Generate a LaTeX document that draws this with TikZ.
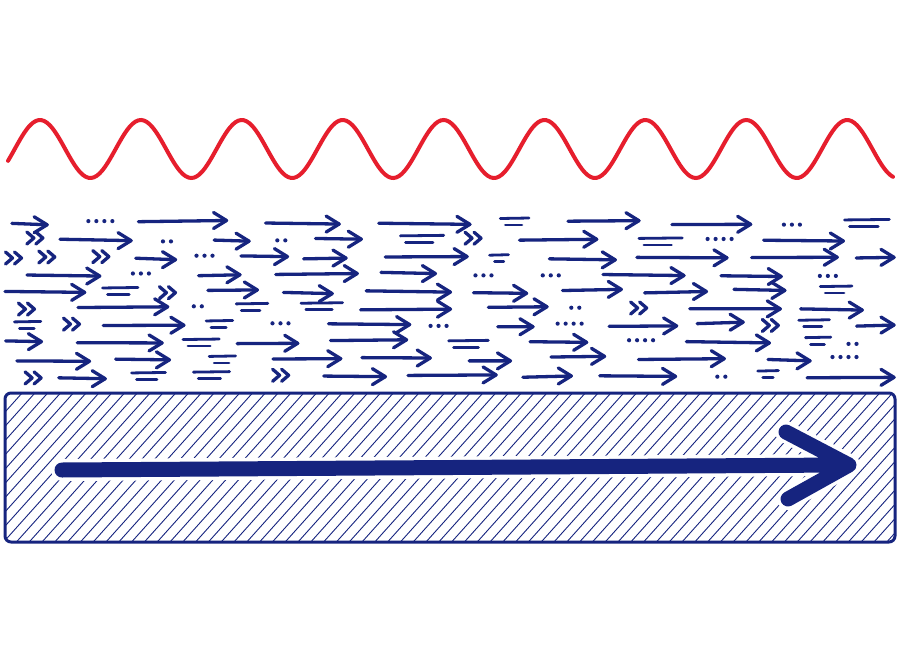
\documentclass[tikz,border=0pt]{standalone}
\definecolor{ink}{HTML}{16247F}
\definecolor{wavered}{HTML}{E61E2D}
\tikzset{
  inkline/.style={draw=ink, line width=3.3pt, line cap=round, line join=round},
  dashline/.style={draw=ink, line width=2.8pt, line cap=round},
  hatchline/.style={draw=ink, line width=0.9pt},
  wavepath/.style={draw=wavered, line width=4pt, line cap=round},
  bigarrow/.style={draw=ink, line width=15pt, line cap=round, line join=round},
  bigarrowhalo/.style={draw=white, line width=22pt, line cap=round, line join=round},
  boxline/.style={draw=ink, line width=3pt, rounded corners=6pt}
}
\newcommand\fieldrow[1]{%
  \pgfmathsetmacro\fx{3+25*rnd}%
  \loop
    \pgfmathsetmacro\ft{rnd}%
    \pgfmathsetmacro\fy{#1+4*rnd-2}%
    \pgfmathsetmacro\fgap{16+28*rnd}%
    \ifdim\ft pt<0.58pt
      \pgfmathsetmacro\fl{min(34+58*rnd, 894-\fx)}%
      \pgfmathsetmacro\fe{\fy+3*rnd-1.5}%
      \draw[inkline] (\fx,\fy) -- (\fx+\fl,\fe);
      \draw[inkline] (\fx+\fl-13,\fe-8) -- (\fx+\fl,\fe) -- (\fx+\fl-13,\fe+8);
      \pgfmathsetmacro\fx{\fx+\fl+\fgap}%
    \else\ifdim\ft pt<0.75pt
      \pgfmathsetmacro\fl{min(18+28*rnd, 894-\fx)}%
      \draw[dashline] (\fx,\fy-3) -- (\fx+\fl,\fy-3.5);
      \draw[dashline] (\fx+5,\fy+3.5) -- (\fx+\fl*0.75,\fy+3.5);
      \pgfmathsetmacro\fx{\fx+\fl+\fgap}%
    \else\ifdim\ft pt<0.89pt
      \pgfmathtruncatemacro\fn{2+3*rnd}%
      \foreach \d in {1,...,\fn}{\fill[ink] (\fx+\d*8-8,\fy) circle (2.1);}
      \pgfmathsetmacro\fx{\fx+\fn*8+\fgap}%
    \else
      \draw[inkline] (\fx,\fy-6) -- (\fx+7,\fy) -- (\fx,\fy+6);
      \draw[inkline] (\fx+9,\fy-6) -- (\fx+16,\fy) -- (\fx+9,\fy+6);
      \pgfmathsetmacro\fx{\fx+16+\fgap}%
    \fi\fi\fi
  \ifdim\fx pt<868pt
  \repeat
}
\begin{document}
\begin{tikzpicture}[x=1pt,y=-1pt]
\useasboundingbox (0,0) rectangle (900,672);
\fill[white] (0,0) rectangle (900,672);
% red wave
\draw[wavepath] plot[domain=8:893, samples=320, smooth] (\x, {149-29*sin((\x-14.75)*3.5679)});
% arrow field
\pgfmathsetseed{12}
\foreach \r in {0,...,9}{%
  \pgfmathsetmacro\ry{223+\r*17}%
  \fieldrow{\ry}%
}
% hatched box
\begin{scope}
  \clip[rounded corners=6pt] (5,393) rectangle (895,542);
  \foreach \k in {-12,...,70}{%
    \draw[hatchline] (\k*12.8,546) -- ++(140,-156);
  }
\end{scope}
\coordinate (s0) at (62,470);
\coordinate (s1) at (842,465);
\coordinate (h0) at (786,432);
\coordinate (ht) at (849,465);
\coordinate (h1) at (788,499);
\draw[bigarrowhalo] (s0) -- (s1) (h0) -- (ht) -- (h1);
\draw[bigarrow] (s0) -- (s1) (h0) -- (ht) -- (h1);
\draw[boxline] (5,393) rectangle (895,542);
\end{tikzpicture}
\end{document}
